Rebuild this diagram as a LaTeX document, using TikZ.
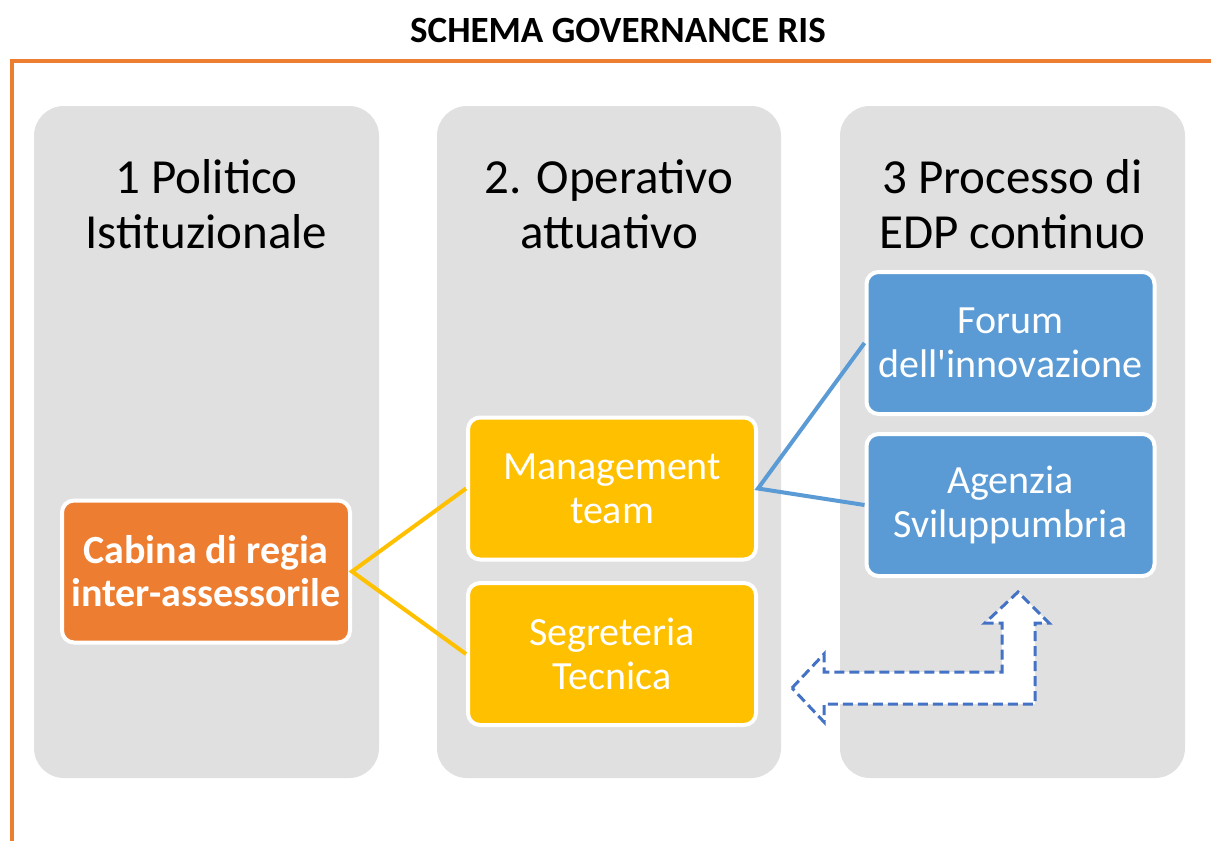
\documentclass[tikz,border=0pt]{standalone}
\usepackage{fontspec}
\setmainfont{Carlito}
\usetikzlibrary{positioning}
\definecolor{orng}{HTML}{ED7D31}
\definecolor{yllw}{HTML}{FFC000}
\definecolor{blu}{HTML}{5B9BD5}
\definecolor{pnl}{HTML}{E0E0E0}
\definecolor{arrblue}{HTML}{4472C4}
\tikzset{
  panel/.style={fill=pnl, rounded corners=30pt},
  ptitle/.style={align=center, font=\fontsize{49}{55}\selectfont, text=black},
  box/.style={draw=white, line width=4pt, rounded corners=12pt, minimum width=288pt, minimum height=142pt, text=white, align=center, inner sep=0pt, font=\fontsize{40}{44}\selectfont},
  ylink/.style={draw=yllw, line width=4pt},
  blink/.style={draw=blu, line width=4pt},
}
\begin{document}
\begin{tikzpicture}[x=1pt,y=-1pt]
\useasboundingbox (0,0) rectangle (1211,841);
\fill[white] (0,0) rectangle (1211,841);
% title
\node[font=\bfseries\fontsize{37}{42}\selectfont] (title) at (618,30) {SCHEMA GOVERNANCE RIS};
% orange frame
\draw[orng, line width=4pt] (12,841) -- (12,61) -- (1211,61);
% panels
\fill[panel] (34,106) rectangle (379,778);
\fill[panel] (437,106) rectangle (781,778);
\fill[panel] (840,106) rectangle (1185,778);
\node[ptitle] (t1) at (206.5,204) {1 Politico\\Istituzionale};
\node[ptitle] (t2) at (609,204) {2. Operativo\\attuativo};
\node[ptitle] (t3) at (1012.5,204) {3 Processo di\\EDP continuo};
% boxes
\node[box, fill=orng, font=\bfseries\fontsize{40}{43}\selectfont] (cab) at (206,571.5) {Cabina di regia\\inter-assessorile};
\node[box, fill=yllw] (man) at (612,488.5) {Management\\team};
\node[box, fill=yllw] (seg) at (612,654) {Segreteria\\Tecnica};
\node[box, fill=blu] (for) at (1010.5,343) {Forum\\dell\textquotesingle innovazione};
\node[box, fill=blu] (age) at (1010.5,505) {Agenzia\\Sviluppumbria};
% connectors
\draw[ylink] (man.west) -- (cab.east) -- (seg.west);
\draw[blink] (for.west) -- (man.east) -- (age.west);
% bent arrow
\draw[arrblue, fill=white, line width=3pt, dash pattern=on 10pt off 5pt]
  (792,688) -- (824,654) -- (824,672) -- (1002,672) -- (1002,623) -- (985,623)
  -- (1018,592) -- (1049,623) -- (1035,623) -- (1035,704) -- (824,704) -- (824,722) -- cycle;
\end{tikzpicture}
\end{document}
